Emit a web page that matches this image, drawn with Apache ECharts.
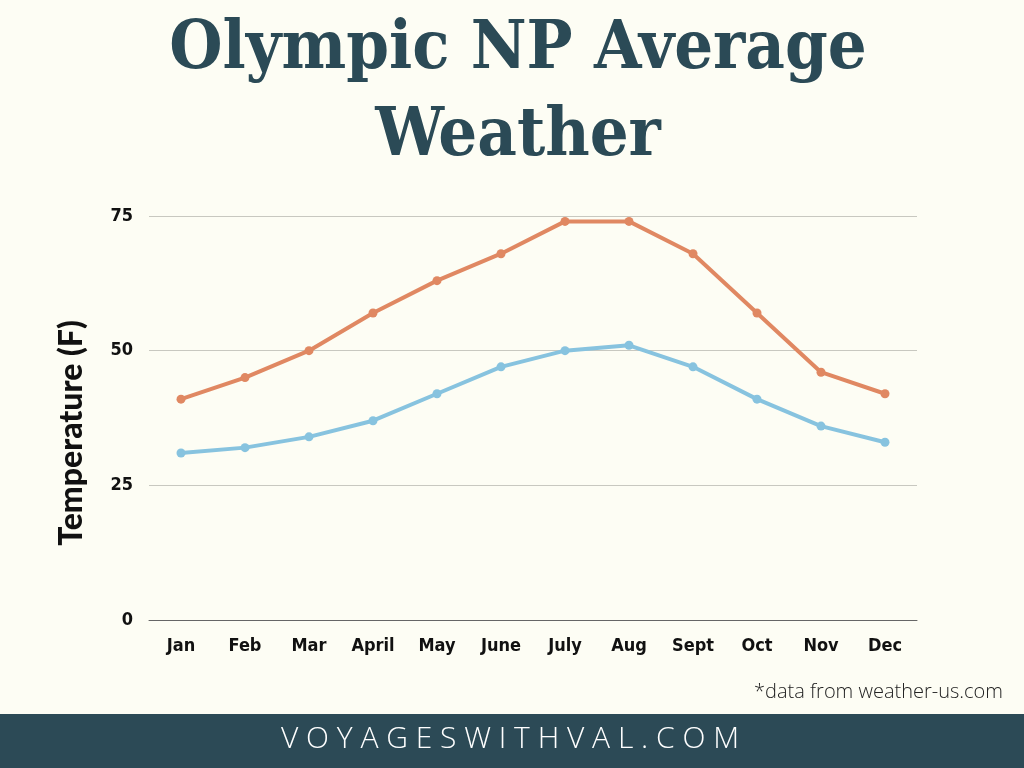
<!DOCTYPE html>
<html><head><meta charset="utf-8">
<script src="https://cdn.jsdelivr.net/npm/echarts@6/dist/echarts.min.js"></script>
<style>html,body{margin:0;padding:0;background:#fdfdf4;}#c{width:1024px;height:768px;}</style>
</head><body><div id="c"></div>
<script>
const months = ['Jan','Feb','Mar','April','May','June','July','Aug','Sept','Oct','Nov','Dec'];
const highTemps = [41,45,50,57,63,68,74,74,68,57,46,42];
const lowTemps = [31,32,34,37,42,47,50,51,47,41,36,33];
const yTicks = [0,25,50,75];

const titleLines = 'Olympic NP Average\nWeather';
const yName = 'Temperature (F)';
const footnote = '*data from weather-us.com';
const site = 'VOYAGESWITHVAL.COM';

const chart = echarts.init(document.getElementById('c'), null, {renderer:'canvas'});
const condensed = '"DejaVu Sans Condensed","DejaVu Sans",sans-serif';
chart.setOption({
  backgroundColor:'#fdfdf4',
  animation:false,
  grid:{left:149,right:107,top:216,bottom:148},
  xAxis:{
    type:'category', data:months, boundaryGap:true,
    axisLine:{lineStyle:{color:'#666',width:1}},
    axisTick:{show:false},
    axisLabel:{margin:17,color:'#111',fontFamily:condensed,fontWeight:'bold condensed',fontSize:18}
  },
  yAxis:{
    type:'value', min:yTicks[0], max:yTicks[yTicks.length-1], interval:25,
    axisLine:{show:false}, axisTick:{show:false},
    splitLine:{lineStyle:{color:'#c8c8c0',width:1}},
    axisLabel:{margin:16,color:'#111',fontFamily:condensed,fontWeight:'bold condensed',fontSize:18}
  },
  series:[
    {name:'High',type:'line',data:highTemps,color:'#e08862',symbol:'circle',symbolSize:9,lineStyle:{width:4}},
    {name:'Low',type:'line',data:lowTemps,color:'#87c3df',symbol:'circle',symbolSize:9,lineStyle:{width:4}}
  ],
  graphic:[
    {type:'text',x:518,y:7,style:{text:titleLines,fontFamily:'"DejaVu Serif Condensed","DejaVu Serif",serif',fontWeight:'bold condensed',fontSize:68,lineHeight:87,fill:'#2b4a56',align:'center',verticalAlign:'top'}},
    {type:'text',x:72,y:433,rotation:Math.PI/2,style:{text:yName,fontFamily:'Lato,"Open Sans",sans-serif',fontWeight:900,fontSize:32,fill:'#111',align:'center',verticalAlign:'middle'}},
    {type:'text',right:21,top:682,style:{text:footnote,fontFamily:'"Open Sans",sans-serif',fontWeight:300,fontSize:20,fill:'#222'}},
    {type:'rect',left:0,top:714,shape:{width:1024,height:54},style:{fill:'#2c4a56'}},
    {type:'text',x:510,y:739,style:{text:site.split('').join(' '),fontFamily:'"Open Sans",sans-serif',fontWeight:300,fontSize:30,fill:'#ffffff',align:'center',verticalAlign:'middle'}}
  ]
});
</script></body></html>
